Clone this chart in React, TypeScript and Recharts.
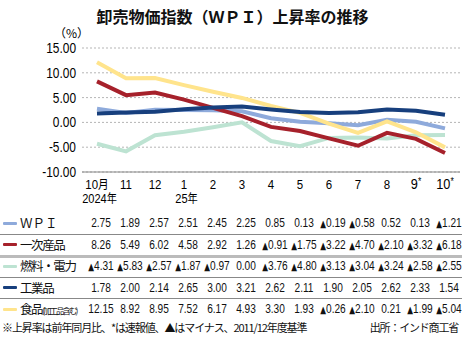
import React from 'react';
import { LineChart, Line, XAxis, YAxis, CartesianGrid } from 'recharts';

const months = ['10月', '11', '12', '1', '2', '3', '4', '5', '6', '7', '8', '9＊', '10＊'];
const yearLabels = ['2024年', '', '', '25年', '', '', '', '', '', '', '', '', ''];

const wpi = [2.75, 1.89, 2.57, 2.51, 2.45, 2.25, 0.85, 0.13, -0.19, -0.58, 0.52, 0.13, -1.21];
const primary = [8.26, 5.49, 6.02, 4.58, 2.92, 1.26, -0.91, -1.75, -3.22, -4.7, -2.1, -3.32, -6.18];
const fuel = [-4.31, -5.83, -2.57, -1.87, -0.97, 0.0, -3.76, -4.8, -3.13, -3.04, -3.24, -2.58, -2.55];
const industrial = [1.78, 2.0, 2.14, 2.65, 3.0, 3.21, 2.62, 2.11, 1.9, 2.05, 2.62, 2.33, 1.54];
const food = [12.15, 8.92, 8.95, 7.52, 6.17, 4.93, 3.3, 1.93, -0.26, -2.1, 0.21, -1.99, -5.04];

const yTicks = [-10, -5, 0, 5, 10, 15];

const series = [
  { key: 'fuel', name: '燃料・電力', values: fuel, color: '#bde3d2' },
  { key: 'wpi', name: 'ＷＰＩ', values: wpi, color: '#8eaadb' },
  { key: 'primary', name: '一次産品', values: primary, color: '#a6212b' },
  { key: 'food', name: '食品', values: food, color: '#ffe48c' },
  { key: 'industrial', name: '工業品', values: industrial, color: '#173f7d' },
];

// table row order
const rows = [
  { name: 'ＷＰＩ', values: wpi, color: '#8eaadb' },
  { name: '一次産品', values: primary, color: '#a6212b' },
  { name: '燃料・電力', values: fuel, color: '#bde3d2' },
  { name: '工業品', values: industrial, color: '#173f7d' },
  { name: '食品', values: food, color: '#ffe48c' },
];

const data = months.map((m, i) => {
  const row: Record<string, any> = { month: m, year: yearLabels[i] };
  series.forEach((s) => (row[s.key] = s.values[i]));
  return row;
});

const W = 465;
const Y_AXIS_W = 82;
const RIGHT = 5;
const PAD = 15;
const step = (W - Y_AXIS_W - RIGHT - PAD * 2) / (months.length - 1);
const colX = (i: number) => Y_AXIS_W + PAD + i * step;

const NUM_FONT = "'Liberation Sans', Arial, sans-serif";
const JP_FONT = "'Noto Sans CJK JP', sans-serif";

const MonthTick = (props: any) => {
  const { x, y, payload, index } = props;
  const label: string = payload.value;
  const star = label.endsWith('＊');
  const base = star ? label.slice(0, -1) : label;
  return (
    <g transform={`translate(${x},${y})`}>
      <g transform="scale(0.85,1)">
        <text x={0} y={17} textAnchor="middle" fontSize={star ? 15 : 13.5} fill="#000" fontFamily={NUM_FONT}>
          {base.replace('月', '')}
          {base.includes('月') && <tspan fontFamily={JP_FONT} fontSize={12.5}>月</tspan>}
          {star && <tspan fontSize={10} dy={-4}>*</tspan>}
        </text>
        {yearLabels[index] && (
          <text x={3} y={31.5} textAnchor="middle" fontSize={13} fill="#000" fontFamily={NUM_FONT}>
            {yearLabels[index].replace('年', '')}
            <tspan fontFamily={JP_FONT} fontSize={12}>年</tspan>
          </text>
        )}
      </g>
    </g>
  );
};

const ValueTick = (props: any) => {
  const { x, y, payload } = props;
  return (
    <g transform={`translate(${x},${y})`}>
      <text x={0} y={0} dy="0.355em" textAnchor="end" fontSize={14} fill="#000" fontFamily={NUM_FONT} transform="scale(0.85,1)">
        {Number(payload.value).toFixed(2)}
      </text>
    </g>
  );
};

export default function App() {
  const rowTop = 213;
  const rowH = 21.5;
  return (
    <div style={{ position: 'absolute', left: 0, top: 0, width: W, height: 340, background: '#fff', overflow: 'hidden' }}>
      <div
        style={{
          position: 'absolute',
          top: 4,
          left: 0,
          width: W,
          textAlign: 'center',
          fontFamily: JP_FONT,
          fontWeight: 'bold',
          fontSize: 16,
          color: '#111',
          lineHeight: '24px',
        }}
      >
        卸売物価指数（ＷＰＩ）上昇率の推移
      </div>
      <div style={{ position: 'absolute', top: 25, left: 54, fontFamily: JP_FONT, fontSize: 12, lineHeight: '16px' }}>
        （%）
      </div>
      <div style={{ position: 'absolute', left: 0, top: 0 }}>
        <LineChart width={W} height={211} data={data} margin={{ top: 48, right: RIGHT, bottom: 0, left: 0 }}>
          <CartesianGrid vertical={false} stroke="#b5b5b5" strokeDasharray="2 2" />
          <XAxis
            dataKey="month"
            interval={0}
            height={39}
            padding={{ left: PAD, right: PAD }}
            tickLine={false}
            tickSize={0}
            tickMargin={0}
            axisLine={{ stroke: '#888', strokeWidth: 1.2 }}
            tick={<MonthTick />}
          />
          <YAxis
            width={Y_AXIS_W}
            domain={[-10, 15]}
            ticks={yTicks}
            axisLine={false}
            tickLine={false}
            tickSize={0}
            tickMargin={6}
            tick={<ValueTick />}
          />
          {series.map((s) => (
            <Line
              key={s.key}
              dataKey={s.key}
              name={s.name}
              stroke={s.color}
              strokeWidth={4}
              dot={false}
              type="linear"
              isAnimationActive={false}
            />
          ))}
        </LineChart>
      </div>

      {rows.map((r, ri) => {
        const cy = rowTop + ri * rowH + 10;
        return (
          <React.Fragment key={r.name}>
            <div style={{ position: 'absolute', left: 3, top: cy - 1.5, width: 14, height: 3, background: r.color, borderRadius: 1 }} />
            <div
              style={{
                position: 'absolute',
                left: 20,
                top: cy - 9,
                lineHeight: '18px',
                fontFamily: JP_FONT,
                fontSize: 12.5,
                letterSpacing: r.name === 'ＷＰＩ' ? 0 : -1.4,
                whiteSpace: 'nowrap',
                color: '#111',
              }}
            >
              {r.name}
              {r.name === '食品' && <span style={{ fontSize: 8.5, letterSpacing: -2 }}>(加工品含む)</span>}
            </div>
            {r.values.map((v, i) => (
              <div
                key={i}
                style={{
                  position: 'absolute',
                  left: colX(i) + 4,
                  top: cy - 9,
                  transform: 'translateX(-50%) scaleX(0.75)',
                  lineHeight: '18px',
                  fontFamily: NUM_FONT,
                  fontSize: 13.5,
                  whiteSpace: 'nowrap',
                  color: '#111',
                }}
              >
                {v < 0 ? <span style={{ fontSize: 10, fontFamily: "'DejaVu Sans', sans-serif" }}>▲</span> : null}
                {Math.abs(v).toFixed(2)}
              </div>
            ))}
            {ri < rows.length - 1 && (
              <div
                style={{
                  position: 'absolute',
                  left: 0,
                  top: rowTop + (ri + 1) * rowH - 1,
                  width: 462,
                  height: ri === 1 ? 2.5 : 1,
                  background: ri === 1 ? '#bbb' : '#888',
                }}
              />
            )}
          </React.Fragment>
        );
      })}

      <div
        style={{
          position: 'absolute',
          left: 2,
          top: 319,
          lineHeight: '16px',
          fontFamily: JP_FONT,
          fontSize: 11,
          letterSpacing: -1.1,
          whiteSpace: 'nowrap',
          color: '#111',
        }}
      >
        ※上昇率は前年同月比、*は速報値、▲はマイナス、2011/12年度基準
      </div>
      <div
        style={{
          position: 'absolute',
          right: 7,
          top: 319,
          lineHeight: '16px',
          fontFamily: JP_FONT,
          fontSize: 11,
          letterSpacing: -1.2,
          whiteSpace: 'nowrap',
          color: '#111',
        }}
      >
        出所：インド商工省
      </div>
    </div>
  );
}
